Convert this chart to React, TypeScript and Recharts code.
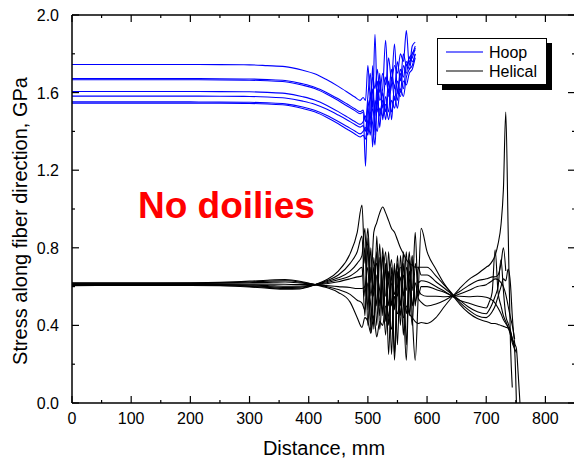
import { LineChart, Line, XAxis, YAxis } from 'recharts'

const FONT = '"Liberation Sans", Arial, Helvetica, sans-serif'

// axis ticks
const xTicks = [0, 50, 100, 150, 200, 250, 300, 350, 400, 450, 500, 550, 600, 650, 700, 750, 800, 850]
const yTicks = [0, 0.2, 0.4, 0.6, 0.8, 1.0, 1.2, 1.4, 1.6, 1.8, 2.0]

// Hoop curves (blue)
const hoopX = [0, 100, 200, 250, 300, 330, 360, 390, 410, 430, 450, 465, 478, 487, 492, 496, 500, 504, 508, 512, 516, 520, 525, 530, 535, 540, 545, 550, 555, 560, 565, 570, 575, 580]
const hoop1 = [1.745, 1.745, 1.745, 1.744, 1.743, 1.739, 1.734, 1.715, 1.697, 1.667, 1.632, 1.603, 1.577, 1.56, 1.575, 1.56, 1.74, 1.58, 1.68, 1.62, 1.72, 1.6, 1.7, 1.64, 1.78, 1.66, 1.74, 1.7, 1.8, 1.76, 1.92, 1.74, 1.84, 1.86]
const hoop2 = [1.672, 1.672, 1.672, 1.671, 1.67, 1.667, 1.662, 1.645, 1.628, 1.601, 1.568, 1.541, 1.517, 1.502, 1.51, 1.45, 1.58, 1.7, 1.52, 1.9, 1.55, 1.66, 1.52, 1.68, 1.6, 1.72, 1.62, 1.76, 1.66, 1.8, 1.74, 1.78, 1.8, 1.84]
const hoop3 = [1.666, 1.666, 1.666, 1.665, 1.664, 1.661, 1.656, 1.638, 1.621, 1.593, 1.559, 1.531, 1.507, 1.491, 1.5, 1.22, 1.56, 1.46, 1.62, 1.48, 1.66, 1.56, 1.62, 1.87, 1.58, 1.64, 1.85, 1.6, 1.72, 1.68, 1.76, 1.72, 1.8, 1.82]
const hoop4 = [1.606, 1.606, 1.606, 1.605, 1.604, 1.601, 1.596, 1.579, 1.562, 1.535, 1.502, 1.475, 1.451, 1.436, 1.45, 1.48, 1.4, 1.6, 1.32, 1.56, 1.5, 1.7, 1.46, 1.58, 1.5, 1.68, 1.56, 1.66, 1.6, 1.74, 1.7, 1.78, 1.76, 1.8]
const hoop5 = [1.582, 1.582, 1.582, 1.581, 1.58, 1.577, 1.572, 1.556, 1.54, 1.515, 1.484, 1.459, 1.436, 1.422, 1.43, 1.4, 1.52, 1.42, 1.74, 1.38, 1.62, 1.42, 1.6, 1.5, 1.66, 1.46, 1.64, 1.56, 1.7, 1.62, 1.74, 1.76, 1.78, 1.83]
const hoop6 = [1.552, 1.552, 1.552, 1.551, 1.55, 1.547, 1.542, 1.526, 1.509, 1.483, 1.451, 1.425, 1.402, 1.387, 1.4, 1.42, 1.38, 1.5, 1.44, 1.33, 1.56, 1.48, 1.56, 1.46, 1.62, 1.5, 1.58, 1.52, 1.62, 1.58, 1.68, 1.72, 1.74, 1.8]
const hoop7 = [1.546, 1.546, 1.546, 1.545, 1.544, 1.541, 1.536, 1.518, 1.501, 1.473, 1.439, 1.411, 1.387, 1.371, 1.38, 1.36, 1.46, 1.38, 1.52, 1.44, 1.4, 1.52, 1.48, 1.54, 1.46, 1.56, 1.52, 1.6, 1.58, 1.66, 1.64, 1.7, 1.72, 1.78]

// Helical curves (black)
const helicalX = [0, 100, 200, 250, 300, 330, 360, 385, 411, 430, 450, 470, 482, 490, 495, 500, 505, 510, 515, 520, 525, 530, 535, 540, 545, 550, 555, 560, 565, 570, 575, 580, 585, 590, 600, 615, 630, 642, 655, 670, 685, 700, 705, 710, 715, 720, 725, 729, 733, 737, 741, 744, 748, 751, 754, 757]
const helical1 = [0.605, 0.606, 0.606, 0.604, 0.598, 0.592, 0.586, 0.588, 0.61, 0.635, 0.68, 0.77, 0.88, 1.02, 0.72, 0.9, 0.62, 0.88, 0.93, 0.98, 1.01, 0.98, 0.94, 0.9, 0.88, 0.84, 0.8, 0.77, 0.74, 0.72, 0.71, 0.7, 0.7, 0.7, 0.7, 0.655, 0.605, 0.565, 0.52, 0.48, 0.45, 0.44, 0.45, 0.47, 0.5, 0.55, 0.6, 0.64, 0.63, 0.69, 0.61, 0.45, 0.31, 0.28, 0.15, 0.0]
const helical2 = [0.608, 0.608, 0.607, 0.606, 0.601, 0.596, 0.59, 0.592, 0.61, 0.63, 0.66, 0.72, 0.78, 0.86, 0.55, 0.8, 0.4, 0.75, 0.5, 0.82, 0.45, 0.72, 0.4, 0.7, 0.25, 0.68, 0.4, 0.72, 0.3, 0.74, 0.45, 0.22, 0.55, 0.9, 0.78, 0.69, 0.61, 0.56, 0.51, 0.465, 0.435, 0.42, 0.415, 0.41, 0.41, 0.405, 0.4, 0.395, 0.39, 0.385, 0.37, 0.33, 0.27, 0.0, null, null]
const helical3 = [0.61, 0.61, 0.609, 0.608, 0.604, 0.6, 0.596, 0.597, 0.61, 0.625, 0.645, 0.68, 0.72, 0.76, 0.9, 0.48, 0.8, 0.38, 0.86, 0.5, 0.76, 0.42, 0.78, 0.5, 0.72, 0.3, 0.76, 0.55, 0.78, 0.45, 0.74, 0.5, 0.7, 0.66, 0.66, 0.625, 0.59, 0.56, 0.53, 0.495, 0.47, 0.46, 0.48, 0.51, 0.55, 0.6, 0.74, 0.58, 0.45, 0.41, 0.37, 0.33, 0.3, null, null, null]
const helical4 = [0.612, 0.612, 0.611, 0.61, 0.608, 0.606, 0.602, 0.602, 0.61, 0.62, 0.635, 0.655, 0.68, 0.7, 0.45, 0.85, 0.55, 0.7, 0.4, 0.75, 0.6, 0.35, 0.68, 0.25, 0.7, 0.55, 0.65, 0.35, 0.7, 0.6, 0.4, 0.72, 0.62, 0.63, 0.625, 0.6, 0.575, 0.55, 0.53, 0.515, 0.5, 0.49, 0.52, 0.57, 0.79, 0.57, 0.5, 0.45, 0.42, 0.39, 0.35, 0.31, 0.28, 0.26, null, null]
const helical5 = [0.613, 0.613, 0.613, 0.613, 0.613, 0.613, 0.612, 0.61, 0.61, 0.615, 0.625, 0.64, 0.65, 0.655, 0.8, 0.4, 0.7, 0.55, 0.78, 0.38, 0.62, 0.78, 0.5, 0.66, 0.22, 0.6, 0.7, 0.52, 0.22, 0.68, 0.58, 0.88, 0.55, 0.6, 0.6, 0.585, 0.57, 0.555, 0.55, 0.548, 0.55, 0.545, 0.54, 0.53, 0.515, 0.49, 0.46, 0.43, 0.41, 0.39, 0.36, 0.33, 0.29, null, null, null]
const helical6 = [0.615, 0.615, 0.616, 0.617, 0.62, 0.622, 0.624, 0.619, 0.61, 0.605, 0.6, 0.595, 0.59, 0.59, 0.6, 0.7, 0.36, 0.62, 0.72, 0.45, 0.8, 0.55, 0.62, 0.74, 0.48, 0.76, 0.5, 0.78, 0.46, 0.62, 0.76, 0.52, 0.58, 0.56, 0.55, 0.55, 0.548, 0.55, 0.562, 0.58, 0.6, 0.61, 0.62, 0.63, 0.64, 0.635, 0.62, 0.6, 0.56, 0.5, 0.44, 0.4, 0.33, null, null, null]
const helical7 = [0.617, 0.617, 0.618, 0.62, 0.624, 0.628, 0.63, 0.624, 0.61, 0.6, 0.585, 0.56, 0.53, 0.515, 0.48, 0.62, 0.5, 0.42, 0.66, 0.58, 0.48, 0.7, 0.25, 0.62, 0.56, 0.72, 0.45, 0.66, 0.58, 0.78, 0.5, 0.62, 0.54, 0.52, 0.5, 0.51, 0.53, 0.55, 0.575, 0.605, 0.63, 0.64, 0.645, 0.65, 0.65, 0.66, 0.72, 0.8, 0.68, null, null, null, null, null, null, null]
const helical8 = [0.619, 0.619, 0.62, 0.622, 0.628, 0.633, 0.636, 0.628, 0.61, 0.595, 0.57, 0.52, 0.44, 0.39, 0.44, 0.42, 0.36, 0.45, 0.34, 0.42, 0.4, 0.5, 0.45, 0.38, 0.55, 0.46, 0.52, 0.44, 0.5, 0.46, 0.44, 0.42, 0.41, 0.415, 0.41, 0.44, 0.5, 0.545, 0.59, 0.635, 0.665, 0.7, 0.71, 0.73, 0.76, 0.82, 0.92, 1.1, 1.5, 0.9, 0.3, 0.08, null, null, null, null]

const toPoints = (xs: number[], ys: (number | null)[]) => xs.map((x, i) => ({ x, y: ys[i] }))

const hoopSeries = [hoop1, hoop2, hoop3, hoop4, hoop5, hoop6, hoop7].map(ys => toPoints(hoopX, ys))
const helicalSeries = [helical1, helical2, helical3, helical4, helical5, helical6, helical7, helical8].map(ys => toPoints(helicalX, ys))

const isMajorX = (v: number) => v % 100 === 0
const isMajorY = (v: number) => Math.round(v * 10) % 4 === 0

function BottomTick({ x, y, payload }: any) {
  const v = payload.value
  const major = isMajorX(v)
  return (
    <g>
      <line x1={x} x2={x} y1={y} y2={y - (major ? 7 : 3)} stroke="#000" strokeWidth={1.2} />
      {major && v <= 800 && (
        <text x={x} y={y + 21} textAnchor="middle" fontSize={16} fontFamily={FONT} fill="#000">{v}</text>
      )}
    </g>
  )
}

function TopTick({ x, y, payload }: any) {
  const major = isMajorX(payload.value)
  return <line x1={x} x2={x} y1={y} y2={y + (major ? 7 : 3)} stroke="#000" strokeWidth={1.2} />
}

function LeftTick({ x, y, payload }: any) {
  const v = payload.value
  const major = isMajorY(v)
  return (
    <g>
      <line x1={x} x2={x + (major ? 7 : 3)} y1={y} y2={y} stroke="#000" strokeWidth={1.2} />
      {major && (
        <text x={x - 13} y={y + 6} textAnchor="end" fontSize={16} fontFamily={FONT} fill="#000">{v.toFixed(1)}</text>
      )}
    </g>
  )
}

function RightTick({ x, y, payload }: any) {
  const major = isMajorY(payload.value)
  return <line x1={x} x2={x - (major ? 7 : 3)} y1={y} y2={y} stroke="#000" strokeWidth={1.2} />
}

export default function App() {
  return (
    <div style={{ position: 'absolute', left: 0, top: 0, width: 574, height: 461, overflow: 'hidden', background: '#fff' }}>
      <LineChart width={576} height={461} margin={{ top: 14, right: 0, left: 0, bottom: 0 }}>
        <XAxis xAxisId="b" dataKey="x" type="number" domain={[0, 850]} ticks={xTicks} interval={0}
          allowDataOverflow height={58} tickSize={0} tickMargin={0} tickLine={false}
          axisLine={{ stroke: '#000', strokeWidth: 1.5 }} tick={(p: any) => <BottomTick {...p} />} />
        <XAxis xAxisId="t" orientation="top" dataKey="x" type="number" domain={[0, 850]} ticks={xTicks} interval={0}
          allowDataOverflow height={1} tickSize={0} tickMargin={0} tickLine={false}
          axisLine={{ stroke: '#000', strokeWidth: 1.5 }} tick={(p: any) => <TopTick {...p} />} />
        <YAxis yAxisId="l" type="number" domain={[0, 2]} ticks={yTicks} interval={0}
          allowDataOverflow width={72} tickSize={0} tickMargin={0} tickLine={false}
          axisLine={{ stroke: '#000', strokeWidth: 1.5 }} tick={(p: any) => <LeftTick {...p} />} />
        <YAxis yAxisId="r" orientation="right" type="number" domain={[0, 2]} ticks={yTicks} interval={0}
          allowDataOverflow width={1} tickSize={0} tickMargin={0} tickLine={false}
          axisLine={{ stroke: '#000', strokeWidth: 1.5 }} tick={(p: any) => <RightTick {...p} />} />

        {helicalSeries.map((d, i) => (
          <Line key={'hel' + i} xAxisId="b" yAxisId="l" data={d} dataKey="y" type="monotoneX"
            stroke="#000" strokeWidth={1.1} dot={false} activeDot={false} isAnimationActive={false} />
        ))}
        {hoopSeries.map((d, i) => (
          <Line key={'hoop' + i} xAxisId="b" yAxisId="l" data={d} dataKey="y" type="monotoneX"
            stroke="#0000ff" strokeWidth={1.1} dot={false} activeDot={false} isAnimationActive={false} />
        ))}
      </LineChart>

      <svg width={574} height={461} style={{ position: 'absolute', left: 0, top: 0, pointerEvents: 'none' }}>
        <text x={27} y={221} transform="rotate(-90 27 221)" textAnchor="middle" fontSize={20} fontFamily={FONT} fill="#000">
          Stress along fiber direction, GPa
        </text>
        <text x={324} y={455} textAnchor="middle" fontSize={20} fontFamily={FONT} fill="#000">Distance, mm</text>
        <text x={138} y={218} fontSize={37} fontWeight="bold" fontFamily={FONT} fill="#ff0000">No doilies</text>

        <rect x={442} y={43} width={110} height={47} fill="#000" />
        <rect x={437.5} y={38.5} width={109} height={46} fill="#fff" stroke="#000" strokeWidth={1} />
        <line x1={446} x2={483} y1={52} y2={52} stroke="#4444ff" strokeWidth={1.5} />
        <text x={489} y={58} fontSize={16} fontFamily={FONT} fill="#000">Hoop</text>
        <line x1={446} x2={483} y1={71} y2={71} stroke="#000" strokeWidth={1.2} />
        <text x={489} y={77} fontSize={16} fontFamily={FONT} fill="#000">Helical</text>
      </svg>
    </div>
  )
}
